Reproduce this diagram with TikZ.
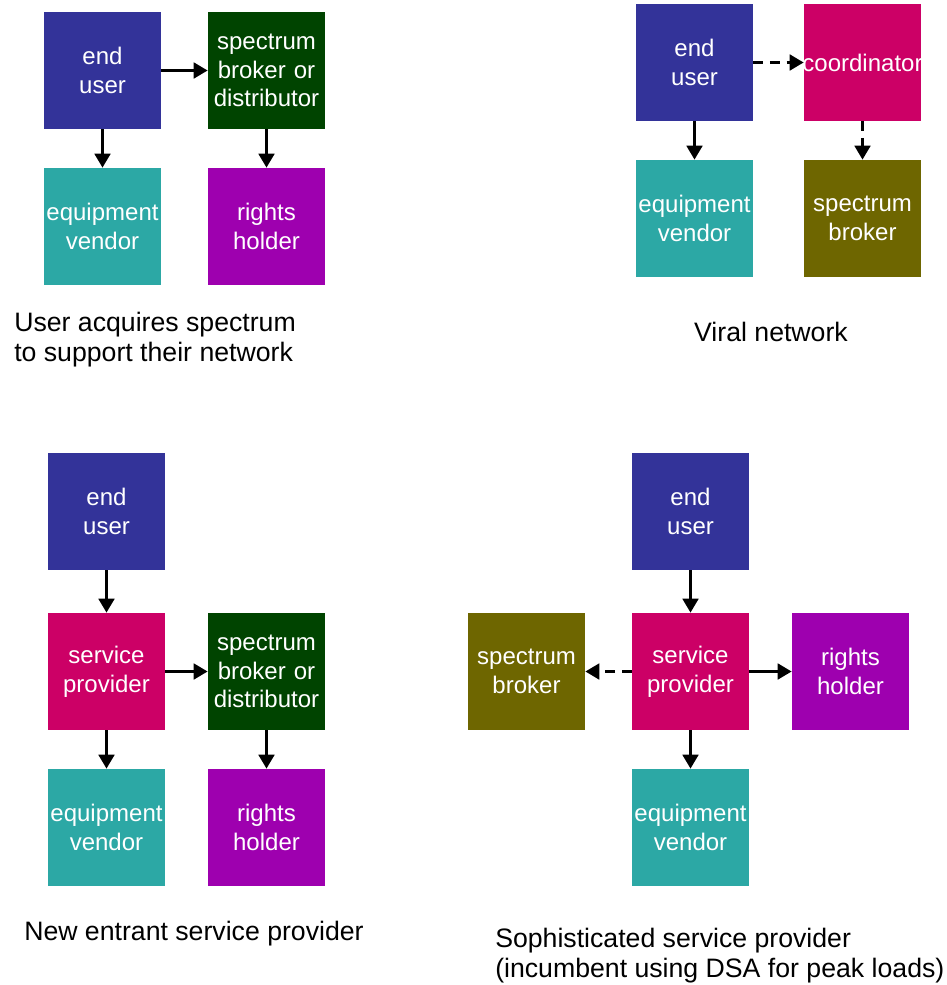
\documentclass[tikz,border=0pt]{standalone}
\usepackage{fontspec}
\setmainfont{Liberation Sans}
\usetikzlibrary{arrows.meta}
\definecolor{cuser}{HTML}{333399}
\definecolor{cdist}{HTML}{004400}
\definecolor{cequip}{HTML}{2CA8A5}
\definecolor{crights}{HTML}{9E00AF}
\definecolor{cmag}{HTML}{CC0066}
\definecolor{colive}{HTML}{6E6600}
\tikzset{
  blk/.style={fill=#1, text=white, minimum width=117*0.75pt, minimum height=117*0.75pt,
    text width=117*0.75pt,
    inner sep=0pt, align=center, font=\fontsize{18pt}{21.5pt}\selectfont},
  captiontext/.style={font=\fontsize{20pt}{22.5pt}\selectfont, align=left, inner sep=0pt},
  arr/.style={line width=2.8pt, -{Triangle[length=10.5pt,width=11.5pt]}},
  darr/.style={arr, dash pattern=on 7.5pt off 5pt}
}
\begin{document}
\begin{tikzpicture}[x=0.75pt,y=-0.75pt]
\useasboundingbox (0,0) rectangle (946,985);
% top-left
\node[blk=cuser] (a1) at (102.5,70.5) {end\\user};
\node[blk=cdist] (a2) at (266.5,70.5) {spectrum\\broker or\\distributor};
\node[blk=cequip] (a3) at (102.5,226.5) {equipment\\vendor};
\node[blk=crights] (a4) at (266.5,226.5) {rights\\holder};
\draw[arr] (a1) -- (a2);
\draw[arr] (a1) -- (a3);
\draw[arr] (a2) -- (a4);
\node[captiontext, anchor=west] (c1) at (14,340) {User acquires spectrum\\to support their network};
% top-right
\node[blk=cuser] (b1) at (694.5,62.5) {end\\user};
\node[blk=cmag] (b2) at (862.5,62.5) {\hbox to 117\dimexpr0.75pt\relax{\hss coordinator\hss}};
\node[blk=cequip] (b3) at (694.5,218.5) {equipment\\vendor};
\node[blk=colive] (b4) at (862.5,218.5) {spectrum\\broker};
\draw[darr] (b1) -- (b2);
\draw[arr] (b1) -- (b3);
\draw[darr] (b2) -- (b4);
\node[captiontext] (c2) at (771,332) {Viral network};
% bottom-left
\node[blk=cuser] (d1) at (106.5,511.5) {end\\user};
\node[blk=cmag] (d2) at (106.5,671.5) {service\\provider};
\node[blk=cdist] (d3) at (266.5,671.5) {spectrum\\broker or\\distributor};
\node[blk=cequip] (d4) at (106.5,827.5) {equipment\\vendor};
\node[blk=crights] (d5) at (266.5,827.5) {rights\\holder};
\draw[arr] (d1) -- (d2);
\draw[arr] (d2) -- (d3);
\draw[arr] (d2) -- (d4);
\draw[arr] (d3) -- (d5);
\node[captiontext, anchor=west] (c3) at (24,934) {New entrant service provider};
% bottom-right
\node[blk=cuser] (e1) at (690.5,511.5) {end\\user};
\node[blk=colive] (e2) at (526.5,671.5) {spectrum\\broker};
\node[blk=cmag] (e3) at (690.5,671.5) {service\\provider};
\node[blk=crights] (e4) at (850.5,671.5) {rights\\holder};
\node[blk=cequip] (e5) at (690.5,827.5) {equipment\\vendor};
\draw[arr] (e1) -- (e3);
\draw[darr] (e3) -- (e2);
\draw[arr] (e3) -- (e4);
\draw[arr] (e3) -- (e5);
\node[captiontext, anchor=west] (c4) at (495,956) {Sophisticated service provider\\(incumbent using DSA for peak loads)};
\end{tikzpicture}
\end{document}
